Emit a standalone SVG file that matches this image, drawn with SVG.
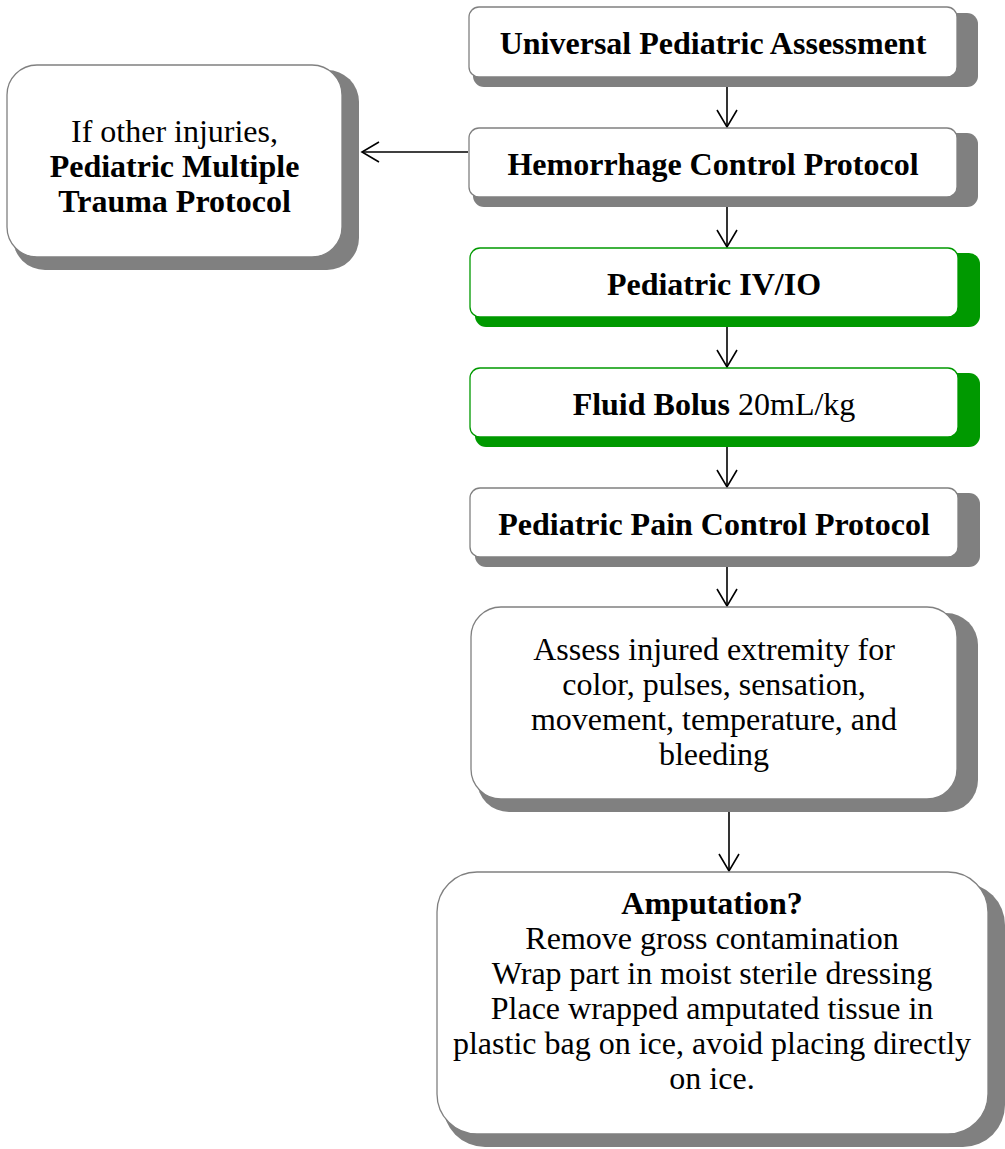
<svg xmlns="http://www.w3.org/2000/svg" width="1005" height="1149" viewBox="0 0 1005 1149">
<style>
.sh{fill:#808080;stroke:none}
.shg{fill:#009900;stroke:none}
.bx{fill:#ffffff;stroke:#808080;stroke-width:1.3}
.bxg{fill:#ffffff;stroke:#009900;stroke-width:1.3}
text{font-family:"Liberation Serif","Times New Roman",serif;font-size:32px;fill:#000;text-anchor:middle}
.b{font-weight:bold}
.cn{fill:none;stroke:#000;stroke-width:1.6}
</style>
<defs>
<marker id="ah" viewBox="-19 -11 21 22" refX="0" refY="0" markerWidth="21" markerHeight="22" markerUnits="userSpaceOnUse" orient="auto">
<path d="M-17,-10 L0,0 L-17,10" fill="none" stroke="#000" stroke-width="1.6"/>
</marker>
</defs>
<g id="connectors">
<path class="cn" d="M727,79 L727,127" marker-end="url(#ah)"/>
<path class="cn" d="M727,199 L727,247" marker-end="url(#ah)"/>
<path class="cn" d="M727,319 L727,367" marker-end="url(#ah)"/>
<path class="cn" d="M727,439 L727,487" marker-end="url(#ah)"/>
<path class="cn" d="M727,559 L727,606" marker-end="url(#ah)"/>
<path class="cn" d="M729,800 L729,871" marker-end="url(#ah)"/>
<path class="cn" d="M468,152 L362,152" marker-end="url(#ah)"/>
</g>
<g id="n-universal">
<rect class="sh" x="473" y="13" width="505" height="74" rx="11"/>
<rect class="bx" x="469" y="7" width="488" height="70" rx="10"/>
<text class="b" x="713" y="54">Universal Pediatric Assessment</text>
</g>
<g id="n-hemorrhage">
<rect class="sh" x="473" y="133" width="505" height="74" rx="11"/>
<rect class="bx" x="469" y="128" width="488" height="69" rx="10"/>
<text class="b" x="713" y="175">Hemorrhage Control Protocol</text>
</g>
<g id="n-multiple">
<rect class="sh" x="13" y="70" width="346" height="200" rx="32"/>
<rect class="bx" x="7" y="65" width="335" height="192" rx="30"/>
<text x="174.5" y="142">If other injuries,</text>
<text class="b" x="174.5" y="177">Pediatric Multiple</text>
<text class="b" x="174.5" y="212">Trauma Protocol</text>
</g>
<g id="n-ivio">
<rect class="shg" x="475" y="253" width="505" height="74" rx="11"/>
<rect class="bxg" x="470" y="248" width="488" height="69" rx="10"/>
<text class="b" x="714" y="295">Pediatric IV/IO</text>
</g>
<g id="n-bolus">
<rect class="shg" x="475" y="373" width="505" height="74" rx="11"/>
<rect class="bxg" x="470" y="368" width="488" height="69" rx="10"/>
<text x="714" y="415"><tspan class="b">Fluid Bolus</tspan> 20mL/kg</text>
</g>
<g id="n-pain">
<rect class="sh" x="475" y="493" width="505" height="74" rx="11"/>
<rect class="bx" x="470" y="488" width="488" height="69" rx="10"/>
<text class="b" x="714" y="535">Pediatric Pain Control Protocol</text>
</g>
<g id="n-assess">
<rect class="sh" x="477" y="613" width="501" height="199" rx="32"/>
<rect class="bx" x="471" y="607" width="486" height="192" rx="30"/>
<text x="714" y="660">Assess injured extremity for</text>
<text x="714" y="695">color, pulses, sensation,</text>
<text x="714" y="730">movement, temperature, and</text>
<text x="714" y="765">bleeding</text>
</g>
<g id="n-amputation">
<rect class="sh" x="443" y="883" width="562" height="264" rx="42"/>
<rect class="bx" x="437" y="872" width="551" height="262" rx="40"/>
<text class="b" x="712" y="914">Amputation?</text>
<text x="712" y="949">Remove gross contamination</text>
<text x="712" y="984">Wrap part in moist sterile dressing</text>
<text x="712" y="1019">Place wrapped amputated tissue in</text>
<text x="712" y="1054">plastic bag on ice, avoid placing directly</text>
<text x="712" y="1089">on ice.</text>
</g>
</svg>
